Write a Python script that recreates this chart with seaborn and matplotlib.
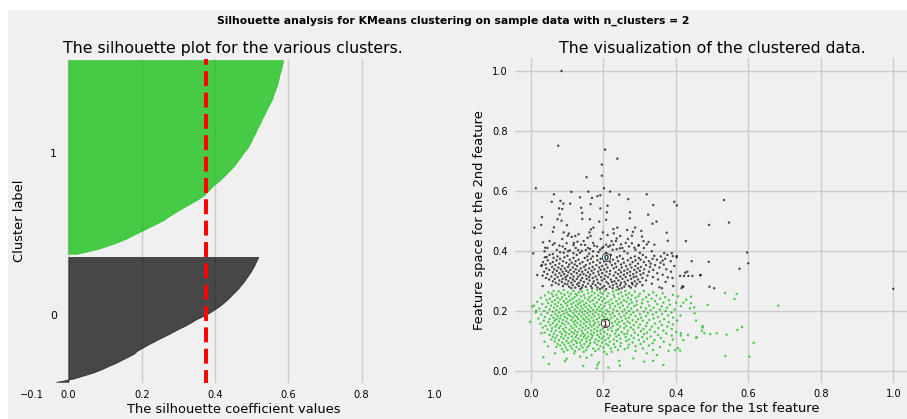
import numpy as np
import pandas as pd
import matplotlib
matplotlib.use("Agg")
import matplotlib.pyplot as plt
import matplotlib.cm as cm
from matplotlib.patches import Rectangle
import seaborn as sns

# ---------------- data ----------------
n_clusters = 2
cluster_sizes = [400, 620]
silhouette_avg = 0.375

# sorted silhouette values read along each cluster's band (bottom -> top)
sil_cluster0 = [-0.034, 0.012, 0.040, 0.068, 0.090, 0.108, 0.128, 0.145, 0.162, 0.178,
                0.188, 0.203, 0.218, 0.235, 0.251, 0.269, 0.285, 0.301, 0.319, 0.334,
                0.348, 0.366, 0.383, 0.396, 0.409, 0.420, 0.430, 0.439, 0.447, 0.456,
                0.464, 0.471, 0.478, 0.484, 0.490, 0.496, 0.501, 0.506, 0.510, 0.514, 0.518]
sil_cluster1 = [0.023, 0.080, 0.120, 0.154, 0.180, 0.207, 0.234, 0.260, 0.279, 0.301,
                0.324, 0.347, 0.368, 0.382, 0.393, 0.410, 0.424, 0.437, 0.450, 0.460,
                0.470, 0.479, 0.490, 0.497, 0.503, 0.510, 0.516, 0.523, 0.529, 0.536,
                0.542, 0.549, 0.556, 0.560, 0.565, 0.570, 0.573, 0.576, 0.580, 0.583, 0.586]

centers_x = [0.207, 0.205]
centers_y = [0.379, 0.161]

x_ticks_left = [-0.1, 0, 0.2, 0.4, 0.6, 0.8, 1]
ticks_right = [0.0, 0.2, 0.4, 0.6, 0.8, 1.0]

# cluster 0 (black) sparse points
black_sparse_pts = [
    (0.154,0.646),(0.196,0.651),(0.014,0.609),(0.202,0.609),(0.219,0.598),(0.112,0.597),(0.159,0.598),
    (0.064,0.589),(0.244,0.588),(0.32,0.589),(0.136,0.579),(0.169,0.577),(0.184,0.583),(0.192,0.586),
    (0.269,0.573),(0.058,0.564),(0.082,0.567),(0.09,0.558),(0.109,0.558),(0.165,0.556),(0.338,0.553),
    (0.396,0.564),(0.403,0.552),(0.078,0.542),(0.087,0.54),(0.139,0.544),(0.192,0.542),(0.212,0.551),
    (0.21,0.529),(0.274,0.529),(0.08,0.522),(0.142,0.527),(0.324,0.521),(0.031,0.513),(0.074,0.506),
    (0.085,0.501),(0.142,0.507),(0.163,0.506),(0.189,0.498),(0.208,0.504),(0.273,0.509),(0.347,0.498),
    (0.336,0.491),(0.029,0.487),(0.01,0.478),(0.064,0.479),(0.1,0.486),(0.173,0.478),(0.166,0.472),
    (0.228,0.473),(0.239,0.478),(0.266,0.47),(0.288,0.478),(0.305,0.467),(0.375,0.461),(0.061,0.464),
    (0.091,0.462),(0.105,0.458),(0.132,0.456),(0.162,0.462),(0.199,0.462),(0.229,0.459),(0.279,0.451),
    (0.282,0.464),(0.102,0.451),(0.113,0.447),(0.123,0.45),(0.157,0.444),(0.165,0.45),(0.212,0.453),
    (0.237,0.442),(0.247,0.45),(0.307,0.448),(0.378,0.434),(0.428,0.433),(0.034,0.429),(0.066,0.426),
    (0.079,0.418),(0.099,0.426),(0.118,0.42),(0.129,0.431),(0.15,0.42),(0.175,0.418),(0.208,0.421),
    (0.219,0.418),(0.235,0.433),(0.249,0.422),(0.279,0.426),(0.298,0.42),(0.32,0.422),(0.325,0.43),
    (0.04,0.411),(0.095,0.407),(0.108,0.402),(0.131,0.403),(0.141,0.4),(0.152,0.403),(0.164,0.407),
    (0.196,0.409),(0.2,0.414),(0.214,0.414),(0.237,0.406),(0.246,0.409),(0.286,0.411),(0.297,0.418),
    (0.007,0.392),(0.061,0.39),(0.081,0.396),(0.118,0.393),(0.161,0.391),(0.187,0.396),(0.267,0.392),
    (0.368,0.393),(0.389,0.393),
    (0.085,1.0),(0.076,0.751),(0.205,0.738),(0.239,0.708),(0.196,0.688),(0.533,0.57),(0.547,0.495),
    (0.492,0.487),(0.597,0.395),(0.6,0.359),(0.576,0.341),(0.491,0.364),(0.444,0.366),(1.0,0.274),
    (0.493,0.281),(0.506,0.276),(0.467,0.319),(0.412,0.317),(0.423,0.317),(0.435,0.317),(0.446,0.317),
    (0.426,0.328),(0.432,0.331),(0.469,0.32),(0.416,0.276),(0.421,0.281),(0.018,0.32),(0.033,0.283),
    (0.031,0.353),(0.044,0.38),(0.364,0.368),(0.403,0.383),(0.392,0.383),(0.378,0.312),(0.393,0.283),
    (0.418,0.282),(0.355,0.279),
]

# cluster 0 dense core, read row by row
black_row_y = [0.440, 0.433, 0.427, 0.421, 0.415, 0.410, 0.404, 0.399, 0.394,
               0.387, 0.384, 0.382, 0.379, 0.377, 0.374, 0.371, 0.369, 0.366, 0.363, 0.361,
               0.358, 0.355, 0.353, 0.350, 0.347, 0.345, 0.342, 0.339, 0.337, 0.334, 0.331,
               0.329, 0.326, 0.323, 0.321, 0.318, 0.315, 0.313, 0.310, 0.307, 0.305, 0.302,
               0.299, 0.297, 0.294, 0.291, 0.289, 0.286, 0.283, 0.281, 0.278, 0.276, 0.273]
black_row_x = [
    [0.087, 0.193, 0.268],
    [0.052, 0.146, 0.223, 0.311],
    [0.119, 0.172, 0.262],
    [0.061, 0.139, 0.228, 0.341],
    [0.088, 0.183, 0.271],
    [0.046, 0.124, 0.158, 0.253, 0.312],
    [0.072, 0.191, 0.226, 0.289],
    [0.038, 0.103, 0.172, 0.258, 0.334],
    [0.091, 0.136, 0.208, 0.301],
    [0.052, 0.127, 0.221, 0.309, 0.377],
    [0.101, 0.183, 0.246, 0.341],
    [0.074, 0.156, 0.171, 0.287, 0.359],
    [0.039, 0.093, 0.212, 0.238, 0.318, 0.402],
    [0.063, 0.118, 0.149, 0.276, 0.298],
    [0.081, 0.166, 0.193, 0.254, 0.336, 0.371],
    [0.108, 0.132, 0.227, 0.303, 0.348],
    [0.047, 0.071, 0.157, 0.184, 0.268, 0.289],
    [0.089, 0.124, 0.203, 0.241, 0.326, 0.386],
    [0.034, 0.061, 0.143, 0.172, 0.219, 0.281, 0.312],
    [0.098, 0.113, 0.191, 0.257, 0.358],
    [0.054, 0.079, 0.136, 0.163, 0.233, 0.296, 0.331],
    [0.041, 0.106, 0.121, 0.208, 0.249, 0.274, 0.367],
    [0.068, 0.152, 0.181, 0.224, 0.318, 0.343],
    [0.029, 0.087, 0.128, 0.197, 0.263, 0.289, 0.396],
    [0.059, 0.103, 0.147, 0.171, 0.236, 0.304, 0.329],
    [0.076, 0.116, 0.189, 0.212, 0.251, 0.278, 0.355],
    [0.043, 0.094, 0.138, 0.161, 0.229, 0.296],
    [0.065, 0.083, 0.124, 0.176, 0.203, 0.267, 0.313, 0.374],
    [0.051, 0.109, 0.151, 0.193, 0.244, 0.286, 0.338],
    [0.072, 0.098, 0.133, 0.168, 0.219, 0.258, 0.301],
    [0.037, 0.088, 0.119, 0.142, 0.186, 0.209, 0.274, 0.326, 0.387],
    [0.061, 0.104, 0.158, 0.234, 0.249, 0.292],
    [0.079, 0.127, 0.173, 0.197, 0.266, 0.311, 0.349],
    [0.046, 0.092, 0.112, 0.146, 0.218, 0.241, 0.283],
    [0.068, 0.137, 0.164, 0.188, 0.257, 0.303, 0.364],
    [0.033, 0.084, 0.101, 0.153, 0.206, 0.229, 0.274, 0.322],
    [0.057, 0.118, 0.131, 0.179, 0.247, 0.291],
    [0.074, 0.096, 0.161, 0.194, 0.213, 0.262, 0.284, 0.337],
    [0.042, 0.109, 0.142, 0.171, 0.236, 0.308, 0.391],
    [0.066, 0.088, 0.127, 0.154, 0.203, 0.253, 0.277],
    [0.051, 0.097, 0.116, 0.183, 0.221, 0.296, 0.351],
    [0.079, 0.138, 0.162, 0.196, 0.242, 0.268, 0.318],
    [0.061, 0.104, 0.121, 0.174, 0.231, 0.287],
    [0.086, 0.147, 0.209, 0.224, 0.259, 0.301, 0.372],
    [0.069, 0.112, 0.133, 0.186, 0.249, 0.279],
    [0.094, 0.158, 0.171, 0.214, 0.236, 0.293, 0.334],
    [0.077, 0.101, 0.128, 0.192, 0.262, 0.281],
    [0.058, 0.116, 0.144, 0.179, 0.227, 0.247, 0.308],
    [0.089, 0.133, 0.166, 0.203, 0.271, 0.289],
    [0.106, 0.152, 0.218, 0.239, 0.258],
    [0.123, 0.141, 0.184, 0.197, 0.276],
    [0.112, 0.169, 0.226, 0.251, 0.362],
    [0.137, 0.191, 0.208, 0.243],
]

# cluster 1 (green) sparse points
green_sparse_pts = [
    (-0.002,0.164),(0.004,0.215),(0.015,0.201),(0.035,0.046),(0.05,0.023),(0.095,0.033),(0.12,0.059),
    (0.145,0.017),(0.182,0.009),(0.184,0.02),(0.188,0.028),(0.214,0.011),(0.246,0.018),(0.244,0.034),
    (0.283,0.042),(0.313,0.031),(0.338,0.034),(0.366,0.02),(0.348,0.053),(0.32,0.059),(0.38,0.067),
    (0.398,0.07),(0.406,0.076),(0.154,0.044),(0.136,0.048),(0.168,0.053),(0.21,0.056),(0.223,0.064),
    (0.067,0.059),(0.099,0.041),(0.412,0.068),(0.038,0.098),(0.048,0.082),(0.029,0.126),
    (0.536,0.26),(0.568,0.257),(0.562,0.24),(0.442,0.248),(0.421,0.228),(0.442,0.226),(0.488,0.22),
    (0.439,0.209),(0.451,0.212),(0.683,0.218),(0.452,0.192),(0.456,0.168),(0.474,0.15),(0.474,0.145),
    (0.472,0.134),(0.479,0.126),(0.495,0.123),(0.54,0.121),(0.57,0.137),(0.583,0.147),(0.414,0.126),
    (0.414,0.118),(0.434,0.12),(0.421,0.103),(0.456,0.111),(0.615,0.094),(0.537,0.05),(0.603,0.048),
    (0.513,0.126),(0.458,0.112),
]

green_row_y = [0.270, 0.267, 0.265, 0.262, 0.259, 0.257, 0.254, 0.252, 0.249, 0.246, 0.244, 0.241,
               0.238, 0.236, 0.233, 0.231, 0.228, 0.226, 0.223, 0.221, 0.218, 0.216, 0.213, 0.211,
               0.208, 0.205, 0.203, 0.200, 0.198, 0.195, 0.193, 0.190, 0.188, 0.185, 0.183, 0.180,
               0.178, 0.175, 0.173, 0.170, 0.168, 0.165, 0.163, 0.160, 0.158, 0.155, 0.153, 0.150,
               0.148, 0.145, 0.143, 0.140, 0.138, 0.135, 0.133, 0.130, 0.128, 0.125, 0.123, 0.120,
               0.118, 0.115, 0.113, 0.110, 0.108, 0.105, 0.103, 0.100, 0.098, 0.095, 0.093, 0.090,
               0.088, 0.085, 0.083, 0.080, 0.078, 0.075, 0.073, 0.070, 0.067, 0.064]
green_row_x = [
    [0.091, 0.156, 0.183, 0.236],
    [0.063, 0.118, 0.204, 0.261, 0.312],
    [0.077, 0.141, 0.169, 0.227, 0.287],
    [0.049, 0.102, 0.133, 0.192, 0.249, 0.338],
    [0.084, 0.159, 0.176, 0.214, 0.271, 0.364],
    [0.058, 0.111, 0.124, 0.198, 0.242, 0.301],
    [0.071, 0.093, 0.147, 0.229, 0.263, 0.326, 0.392],
    [0.039, 0.128, 0.168, 0.186, 0.279, 0.347],
    [0.062, 0.106, 0.139, 0.211, 0.253, 0.297, 0.406],
    [0.087, 0.121, 0.162, 0.194, 0.231, 0.318, 0.371],
    [0.028, 0.074, 0.149, 0.177, 0.268, 0.289],
    [0.053, 0.098, 0.115, 0.203, 0.244, 0.334, 0.357],
    [0.081, 0.134, 0.158, 0.188, 0.222, 0.276, 0.309, 0.429],
    [0.044, 0.067, 0.109, 0.171, 0.257, 0.381],
    [0.091, 0.126, 0.143, 0.197, 0.236, 0.292, 0.343],
    [0.018, 0.059, 0.103, 0.164, 0.214, 0.264, 0.323],
    [0.076, 0.118, 0.136, 0.182, 0.249, 0.279, 0.366, 0.401],
    [0.048, 0.096, 0.153, 0.207, 0.226, 0.307],
    [0.032, 0.067, 0.112, 0.131, 0.174, 0.241, 0.271, 0.349],
    [0.084, 0.147, 0.193, 0.218, 0.292, 0.384],
    [0.009, 0.056, 0.101, 0.124, 0.161, 0.254, 0.327],
    [0.073, 0.139, 0.178, 0.203, 0.233, 0.286, 0.361, 0.414],
    [0.042, 0.089, 0.114, 0.152, 0.188, 0.267, 0.304],
    [0.064, 0.129, 0.167, 0.219, 0.246, 0.339, 0.376],
    [0.024, 0.081, 0.106, 0.143, 0.196, 0.277, 0.318],
    [0.052, 0.097, 0.121, 0.158, 0.183, 0.228, 0.259, 0.356, 0.397],
    [0.071, 0.136, 0.172, 0.209, 0.294, 0.331],
    [0.037, 0.088, 0.109, 0.149, 0.191, 0.238, 0.271, 0.372],
    [0.061, 0.126, 0.164, 0.214, 0.253, 0.312],
    [0.014, 0.078, 0.099, 0.141, 0.179, 0.199, 0.283, 0.346, 0.388],
    [0.046, 0.117, 0.156, 0.226, 0.264, 0.323],
    [0.068, 0.091, 0.133, 0.171, 0.207, 0.244, 0.301, 0.362],
    [0.029, 0.104, 0.147, 0.187, 0.219, 0.276, 0.337],
    [0.057, 0.083, 0.122, 0.161, 0.196, 0.258, 0.379, 0.413],
    [0.074, 0.109, 0.139, 0.176, 0.231, 0.289, 0.318],
    [0.039, 0.094, 0.128, 0.153, 0.203, 0.249, 0.351],
    [0.063, 0.116, 0.168, 0.189, 0.223, 0.271, 0.304, 0.393],
    [0.021, 0.081, 0.101, 0.144, 0.211, 0.262, 0.339],
    [0.052, 0.071, 0.131, 0.159, 0.182, 0.239, 0.296, 0.368],
    [0.089, 0.112, 0.149, 0.197, 0.217, 0.281, 0.327],
    [0.036, 0.066, 0.123, 0.173, 0.252, 0.309, 0.404],
    [0.078, 0.098, 0.138, 0.163, 0.233, 0.267, 0.356],
    [0.049, 0.118, 0.154, 0.186, 0.244, 0.291, 0.381],
    [0.061, 0.087, 0.129, 0.177, 0.224, 0.273, 0.321],
    [0.027, 0.104, 0.146, 0.196, 0.258, 0.343],
    [0.072, 0.093, 0.121, 0.163, 0.212, 0.239, 0.301, 0.392],
    [0.054, 0.137, 0.174, 0.189, 0.284, 0.362],
    [0.041, 0.082, 0.111, 0.152, 0.227, 0.263, 0.318],
    [0.068, 0.126, 0.168, 0.206, 0.247, 0.334, 0.377],
    [0.033, 0.097, 0.143, 0.184, 0.276, 0.297],
    [0.059, 0.078, 0.116, 0.159, 0.221, 0.258, 0.352],
    [0.089, 0.134, 0.176, 0.198, 0.241, 0.311, 0.389],
    [0.046, 0.107, 0.151, 0.213, 0.283, 0.329],
    [0.069, 0.122, 0.167, 0.192, 0.236, 0.268, 0.366],
    [0.057, 0.093, 0.141, 0.183, 0.224, 0.304],
    [0.081, 0.113, 0.129, 0.203, 0.251, 0.342, 0.401],
    [0.038, 0.098, 0.157, 0.174, 0.287, 0.321],
    [0.064, 0.119, 0.144, 0.193, 0.233, 0.266, 0.374],
    [0.086, 0.106, 0.166, 0.211, 0.258, 0.313],
    [0.052, 0.127, 0.149, 0.184, 0.243, 0.296, 0.351],
    [0.073, 0.096, 0.138, 0.171, 0.219, 0.277, 0.389],
    [0.061, 0.113, 0.158, 0.201, 0.236, 0.331],
    [0.084, 0.124, 0.146, 0.189, 0.262, 0.308],
    [0.068, 0.103, 0.168, 0.214, 0.284, 0.359],
    [0.091, 0.132, 0.153, 0.196, 0.247, 0.321],
    [0.057, 0.117, 0.179, 0.229, 0.271, 0.392],
    [0.078, 0.141, 0.163, 0.206, 0.298, 0.341],
    [0.099, 0.124, 0.187, 0.238, 0.264],
    [0.066, 0.112, 0.154, 0.218, 0.312, 0.367],
    [0.087, 0.136, 0.176, 0.197, 0.281],
    [0.104, 0.127, 0.164, 0.249, 0.336],
    [0.074, 0.148, 0.208, 0.229, 0.303],
    [0.093, 0.118, 0.183, 0.271, 0.384],
    [0.081, 0.139, 0.161, 0.214, 0.326],
    [0.109, 0.192, 0.247, 0.289],
    [0.071, 0.126, 0.156, 0.233, 0.357],
    [0.096, 0.143, 0.201, 0.268],
    [0.114, 0.172, 0.221, 0.309],
    [0.086, 0.134, 0.187, 0.259],
    [0.101, 0.153, 0.241, 0.337],
    [0.122, 0.178, 0.289],
    [0.091, 0.146, 0.203],
]

# ---------------- assemble ----------------
def collect(sparse, row_y, row_x, label):
    xs = [p[0] for p in sparse]
    ys = [p[1] for p in sparse]
    for yv, row in zip(row_y, row_x):
        xs.extend(row)
        ys.extend([yv] * len(row))
    return pd.DataFrame({"x": xs, "y": ys, "cluster": label})

df = pd.concat([collect(black_sparse_pts, black_row_y, black_row_x, 0),
                collect(green_sparse_pts, green_row_y, green_row_x, 1)], ignore_index=True)

# ---------------- style ----------------
plt.style.use("fivethirtyeight")
plt.rcParams["font.family"] = ["DejaVu Sans"]

W, H = 907, 419
fig = plt.figure(figsize=(W / 100, H / 100), dpi=100, facecolor="white")
fig.patches.append(Rectangle((8 / W, 0), 1, 1 - 10 / H, transform=fig.transFigure,
                             facecolor="#f0f0f0", edgecolor="none", zorder=-10))

colors = [cm.nipy_spectral(float(i) / n_clusters) for i in range(n_clusters)]

# ---- left: silhouette plot ----
ax1 = fig.add_axes([31.7 / W, 1 - 385 / H, (435 - 31.7) / W, 328 / H])
ax1.set_xlim([-0.1, 1])
ax1.set_ylim([0, sum(cluster_sizes) + (n_clusters + 1) * 10])
y_lower = 10
for i, vals in enumerate([sil_cluster0, sil_cluster1]):
    size = cluster_sizes[i]
    yy = np.linspace(y_lower, y_lower + size, len(vals))
    ax1.fill_betweenx(yy, 0, vals, facecolor=colors[i], edgecolor=colors[i], alpha=0.7)
    ax1.text(-0.05, y_lower + 0.5 * size, str(i), fontsize=7.8)
    y_lower += size + 10
ax1.axvline(x=silhouette_avg, color="red", linestyle="--", lw=2.9)
ax1.set_yticks([])
ax1.set_xticks(x_ticks_left)
ax1.tick_params(labelsize=7.1)
ax1.set_title("The silhouette plot for the various clusters.", fontsize=11.3, pad=3)
ax1.set_xlabel("The silhouette coefficient values", fontsize=9.4, labelpad=2)
ax1.set_ylabel("Cluster label", fontsize=9.4)

# ---- right: scatter ----
ax2 = fig.add_axes([512.6 / W, 1 - 384.5 / H, (911.4 - 512.6) / W, 328.5 / H])
sns.scatterplot(data=df, x="x", y="y", hue="cluster", palette=colors, marker="o",
                s=3, linewidth=0, alpha=0.7, legend=False, ax=ax2)
ax2.scatter(centers_x, centers_y, marker="o", c="white", alpha=1, s=36,
            edgecolor="k", linewidths=0.5, zorder=3)
cycle = ["#008fd5", "#fc4f30"]
for i, (cx, cy) in enumerate(zip(centers_x, centers_y)):
    ax2.scatter(cx, cy, marker="$%d$" % i, alpha=1, s=16, color=cycle[i],
                edgecolor="k", linewidths=0.3, zorder=4)
ax2.set_xlim(-0.05, 1.05)
ax2.set_ylim(-0.045, 1.05)
ax2.set_xticks(ticks_right)
ax2.set_yticks(ticks_right)
ax2.tick_params(labelsize=7.1)
ax2.set_title("The visualization of the clustered data.", fontsize=11.3, pad=2.4)
ax2.set_xlabel("Feature space for the 1st feature", fontsize=9.4, labelpad=2)
ax2.set_ylabel("Feature space for the 2nd feature", fontsize=9.4)

fig.text(0.5, 1 - 20.5 / H, "Silhouette analysis for KMeans clustering on sample data with n_clusters = 2",
         ha="center", va="center", fontsize=7.8, fontweight="bold")

fig.savefig("out.png", dpi=100, facecolor=fig.get_facecolor())
